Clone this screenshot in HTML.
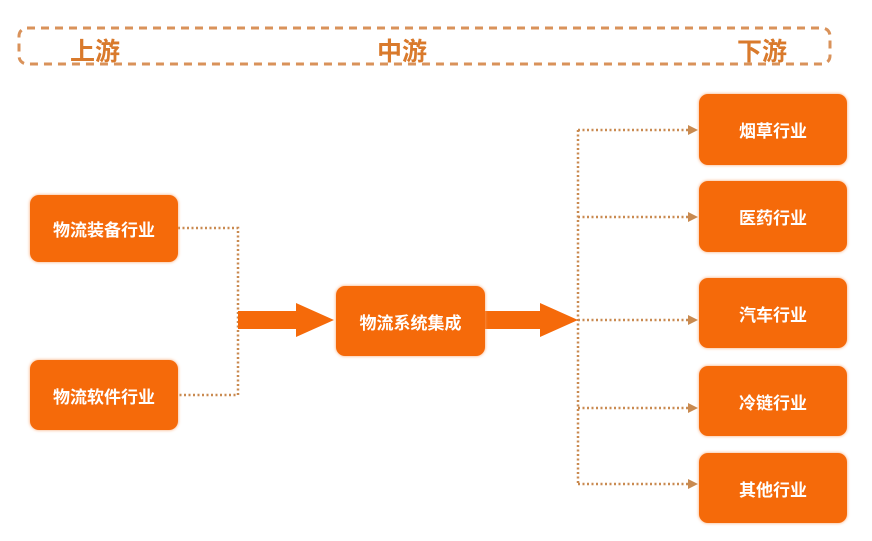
<!DOCTYPE html>
<html><head><meta charset="utf-8"><style>
body{margin:0;width:872px;height:541px;background:#fff;overflow:hidden;position:relative;font-family:"Liberation Sans","Noto Sans CJK SC",sans-serif}
.b{position:absolute;background:#f56a0a;border-radius:9px;color:#fff;font-weight:bold;font-size:17px;display:flex;align-items:center;justify-content:center;box-shadow:0 0 3px #f9a36a}
.h{position:absolute;top:32px;font-size:25px;font-weight:bold;color:#d97a2c}
</style></head><body>
<svg width="872" height="541" style="position:absolute;left:0;top:0">
<rect x="19" y="28" width="811" height="36" rx="8" fill="none" stroke="#d9925a" stroke-width="3" stroke-dasharray="8,6"/>
<g stroke="#c98a50" stroke-width="2.5" stroke-dasharray="2,2.5" fill="none">
<polyline points="178,228 238,228 238,395 178,395"/>
<line x1="578" y1="130" x2="578" y2="484"/>
<line x1="578" y1="130" x2="690" y2="130"/>
<line x1="578" y1="217" x2="690" y2="217"/>
<line x1="578" y1="320" x2="690" y2="320"/>
<line x1="578" y1="408" x2="690" y2="408"/>
<line x1="578" y1="484" x2="690" y2="484"/>
</g>
<g fill="#c98a50">
<polygon points="688,125 698,130 688,135"/>
<polygon points="688,212 698,217 688,222"/>
<polygon points="688,315 698,320 688,325"/>
<polygon points="688,403 698,408 688,413"/>
<polygon points="688,479 698,484 688,489"/>
</g>
<g fill="#f56a0a">
<polygon points="238,311 296,311 296,303 334,320 296,337 296,329 238,329"/>
<polygon points="485,311 540,311 540,303 578,320 540,337 540,329 485,329"/>
</g>
</svg>
<div class="h" style="left:70px">上游</div>
<div class="h" style="left:377px">中游</div>
<div class="h" style="left:737px">下游</div>
<div class="b" style="left:30px;top:195px;width:148px;height:67px">物流装备行业</div>
<div class="b" style="left:30px;top:360px;width:148px;height:70px">物流软件行业</div>
<div class="b" style="left:336px;top:286px;width:149px;height:70px">物流系统集成</div>
<div class="b" style="left:699px;top:94px;width:148px;height:71px">烟草行业</div>
<div class="b" style="left:699px;top:181px;width:148px;height:71px">医药行业</div>
<div class="b" style="left:699px;top:278px;width:148px;height:70px">汽车行业</div>
<div class="b" style="left:699px;top:366px;width:148px;height:70px">冷链行业</div>
<div class="b" style="left:699px;top:453px;width:148px;height:70px">其他行业</div>
</body></html>
